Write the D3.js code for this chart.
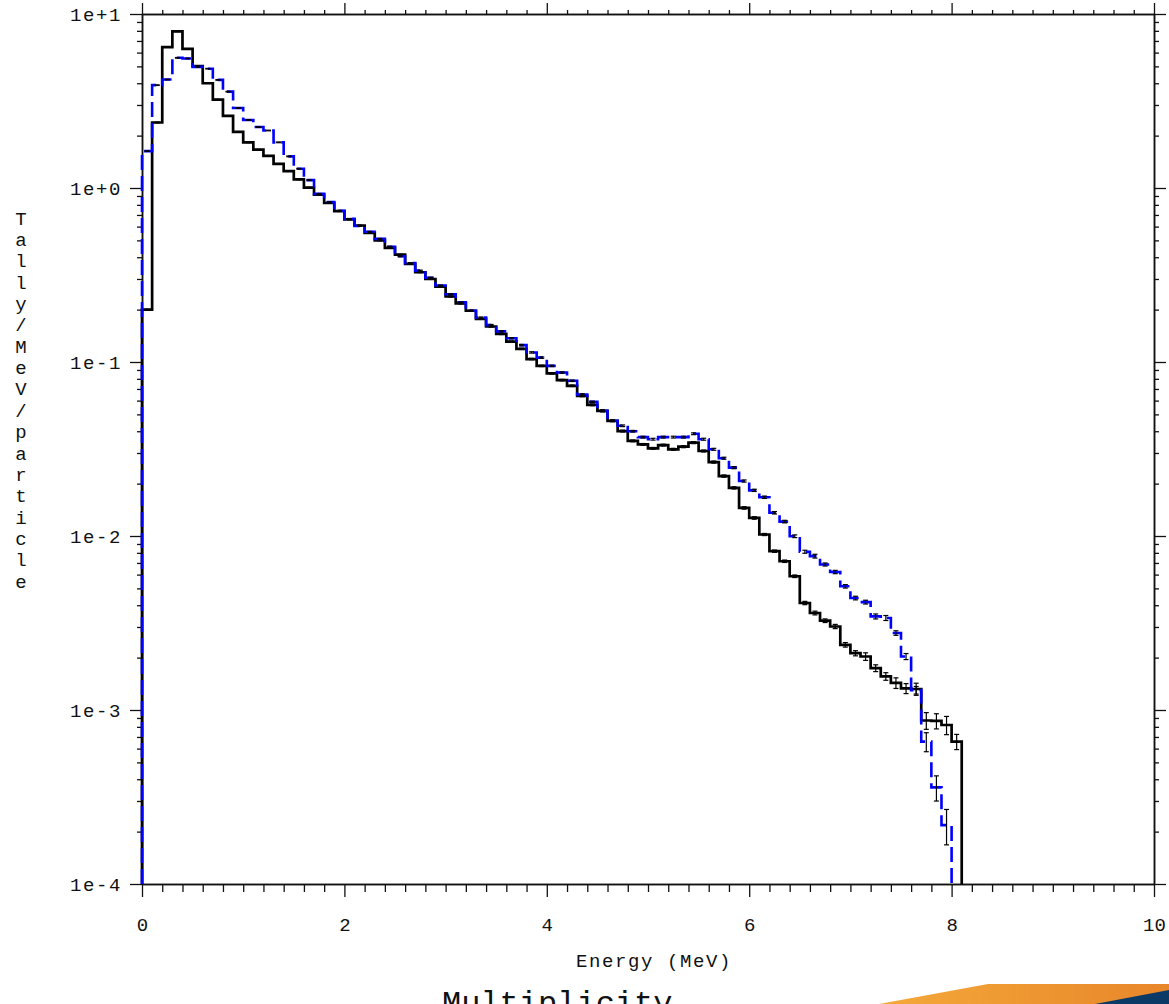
<!DOCTYPE html>
<html>
<head>
<meta charset="utf-8">
<script src="https://cdn.jsdelivr.net/npm/d3@7"></script>
<style>
  body { margin: 0; background: #fff; }
  svg { display: block; }
  text { font-family: "Liberation Mono", "Courier New", monospace; fill: #111; }
</style>
</head>
<body>
<div id="chart"></div>
<script>
// histogram bins are 0.1 MeV wide, starting at 0
const binWidth = 0.1;

// Tally/MeV/particle, black solid series
const blackValues = [
  0.20, 2.38, 6.45, 7.95, 6.3, 5.02, 4.0, 3.22, 2.6, 2.1,
  1.83, 1.66, 1.53, 1.375, 1.25, 1.12, 1.005, 0.915, 0.82, 0.737,
  0.66, 0.609, 0.552, 0.50, 0.453, 0.414, 0.366, 0.328, 0.30, 0.271,
  0.238, 0.217, 0.197, 0.177, 0.16, 0.145, 0.131, 0.119, 0.104, 0.095,
  0.086, 0.0787, 0.073, 0.0638, 0.0567, 0.0524, 0.0459, 0.0401, 0.0352, 0.0336,
  0.0319, 0.0333, 0.0315, 0.0326, 0.0344, 0.0308, 0.0266, 0.0221, 0.0189, 0.0145,
  0.0127, 0.0102, 0.00818, 0.00716, 0.00587, 0.00412, 0.00361, 0.00326, 0.00302, 0.00237,
  0.00212, 0.00203, 0.00174, 0.00156, 0.00143, 0.00133, 0.00132, 0.00087, 0.000865, 0.00082,
  0.000658
];
// relative errors of the black series
const blackErrors = [
  0.004, 0.004, 0.003, 0.003, 0.003, 0.003, 0.003, 0.003, 0.003, 0.004,
  0.004, 0.004, 0.004, 0.004, 0.004, 0.004, 0.004, 0.004, 0.005, 0.005,
  0.005, 0.005, 0.005, 0.005, 0.006, 0.006, 0.006, 0.006, 0.006, 0.006,
  0.007, 0.007, 0.007, 0.007, 0.008, 0.008, 0.008, 0.008, 0.009, 0.009,
  0.009, 0.01, 0.01, 0.01, 0.011, 0.011, 0.011, 0.012, 0.012, 0.012,
  0.012, 0.012, 0.013, 0.013, 0.013, 0.013, 0.014, 0.015, 0.015, 0.016,
  0.017, 0.014, 0.015, 0.016, 0.017, 0.022, 0.025, 0.024, 0.028, 0.03,
  0.034, 0.05, 0.045, 0.05, 0.07, 0.066, 0.08, 0.11, 0.10, 0.12,
  0.10
];

// blue dashed series
const blueValues = [
  1.63, 3.9, 4.2, 5.6, 5.55, 4.97, 4.85, 4.18, 3.58, 2.88,
  2.46, 2.24, 2.14, 1.83, 1.52, 1.29, 1.11, 0.925, 0.83, 0.74,
  0.665, 0.605, 0.56, 0.51, 0.46, 0.405, 0.37, 0.335, 0.305, 0.275,
  0.245, 0.22, 0.197, 0.18, 0.163, 0.15, 0.137, 0.125, 0.1135, 0.106,
  0.095, 0.087, 0.078, 0.065, 0.059, 0.0524, 0.046, 0.043, 0.040, 0.037,
  0.036, 0.037, 0.037, 0.037, 0.0387, 0.036, 0.0315, 0.028, 0.0247, 0.0207,
  0.0183, 0.0167, 0.0136, 0.0121, 0.00997, 0.00812, 0.00766, 0.00686, 0.00621, 0.00514,
  0.0044, 0.00417, 0.00345, 0.00338, 0.00277, 0.00203, 0.0013, 0.000658, 0.000359, 0.000218
];
const blueErrors = [
  0.004, 0.004, 0.004, 0.004, 0.004, 0.004, 0.004, 0.004, 0.004, 0.004,
  0.004, 0.004, 0.004, 0.005, 0.005, 0.005, 0.005, 0.005, 0.005, 0.005,
  0.005, 0.006, 0.006, 0.006, 0.006, 0.006, 0.006, 0.007, 0.007, 0.007,
  0.007, 0.007, 0.008, 0.008, 0.008, 0.008, 0.008, 0.009, 0.009, 0.009,
  0.009, 0.01, 0.01, 0.01, 0.01, 0.011, 0.011, 0.011, 0.011, 0.012,
  0.012, 0.012, 0.012, 0.012, 0.012, 0.013, 0.013, 0.013, 0.014, 0.014,
  0.015, 0.016, 0.016, 0.017, 0.018, 0.02, 0.025, 0.02, 0.022, 0.023,
  0.024, 0.025, 0.033, 0.033, 0.03, 0.04, 0.05, 0.125, 0.165, 0.23
];

const xTickValues = [0, 2, 4, 6, 8, 10];
const xTickLabels = ["0", "2", "4", "6", "8", "10"];
const yTickValues = [1e-4, 1e-3, 1e-2, 1e-1, 1e+0, 1e+1];
const yTickLabels = ["1e-4", "1e-3", "1e-2", "1e-1", "1e+0", "1e+1"];

const xTitle = "Energy (MeV)";
const yTitle = "Tally/MeV/particle";
const footerText = "Multiplicity";

const width = 1169, height = 1004;
const plotLeft = 142, plotRight = 1154, plotTop = 14, plotBottom = 884;

const svg = d3.select("#chart").append("svg")
    .attr("width", width)
    .attr("height", height);

svg.append("rect").attr("width", width).attr("height", height).attr("fill", "#fff");

const x = d3.scaleLinear().domain([0, 10]).range([plotLeft, plotRight]);
const y = d3.scaleLog().domain([1e-4, 10]).range([plotBottom, plotTop]);

// minor tick positions
const xMinor = d3.range(0, 10.001, 0.2).filter(v => Math.abs(v / 2 - Math.round(v / 2)) > 1e-6);
const yMinor = [];
for (let e = -4; e < 1; e++) {
    for (let m = 2; m <= 9; m++) yMinor.push(m * Math.pow(10, e));
}

function styleAxis(g) {
    g.select(".domain").attr("stroke", "#111").attr("stroke-width", 1.5);
    g.selectAll(".tick line").attr("stroke", "#111").attr("stroke-width", 1.3);
}

// bottom axis
svg.append("g").attr("transform", `translate(0,${plotBottom})`)
    .call(d3.axisBottom(x).tickValues(xMinor).tickSize(8).tickSizeOuter(0).tickFormat(""))
    .call(styleAxis);
const xb = svg.append("g").attr("transform", `translate(0,${plotBottom})`)
    .call(d3.axisBottom(x).tickValues(xTickValues).tickSize(13).tickSizeOuter(0)
        .tickFormat((d, i) => xTickLabels[i]))
    .call(styleAxis);
xb.selectAll("text")
    .attr("y", 40).attr("dy", "0.35em")
    .attr("font-family", "Liberation Mono").attr("font-size", 19)
    .attr("fill", "#111");

// top axis
svg.append("g").attr("transform", `translate(0,${plotTop})`)
    .call(d3.axisTop(x).tickValues(xMinor).tickSize(4).tickSizeOuter(0).tickFormat(""))
    .call(styleAxis);
svg.append("g").attr("transform", `translate(0,${plotTop})`)
    .call(d3.axisTop(x).tickValues(xTickValues).tickSize(11).tickSizeOuter(0).tickFormat(""))
    .call(styleAxis);

// left axis
svg.append("g").attr("transform", `translate(${plotLeft},0)`)
    .call(d3.axisLeft(y).tickValues(yMinor).tickSize(5).tickSizeOuter(0).tickFormat(""))
    .call(styleAxis);
const yl = svg.append("g").attr("transform", `translate(${plotLeft},0)`)
    .call(d3.axisLeft(y).tickValues(yTickValues).tickSize(12).tickSizeOuter(0)
        .tickFormat((d, i) => yTickLabels[i]))
    .call(styleAxis);
yl.selectAll("text")
    .attr("x", -20).attr("dy", "0.35em")
    .attr("font-family", "Liberation Mono").attr("font-size", 19)
    .attr("letter-spacing", "1.6px")
    .attr("fill", "#111");

// right axis
svg.append("g").attr("transform", `translate(${plotRight},0)`)
    .call(d3.axisRight(y).tickValues(yMinor).tickSize(5).tickSizeOuter(0).tickFormat(""))
    .call(styleAxis);
svg.append("g").attr("transform", `translate(${plotRight},0)`)
    .call(d3.axisRight(y).tickValues(yTickValues).tickSize(12).tickSizeOuter(0).tickFormat(""))
    .call(styleAxis);

// step outline of a histogram, starting and ending on the axis floor
function stepPoints(values) {
    const floor = y.domain()[0];
    const pts = [[0, floor]];
    values.forEach((v, i) => {
        pts.push([i * binWidth, v]);
        pts.push([(i + 1) * binWidth, v]);
    });
    pts.push([values.length * binWidth, floor]);
    return pts;
}

const line = d3.line().x(d => x(d[0])).y(d => y(d[1]));

svg.append("path")
    .attr("d", line(stepPoints(blackValues)))
    .attr("fill", "none")
    .attr("stroke", "#000")
    .attr("stroke-width", 2.7);

svg.append("path")
    .attr("d", line(stepPoints(blueValues)))
    .attr("fill", "none")
    .attr("stroke", "#0000ff")
    .attr("stroke-width", 2.6)
    .attr("stroke-dasharray", "15,6");

// error bars, black for both series
function drawErrors(values, errors) {
    const g = svg.append("g").attr("stroke", "#000").attr("stroke-width", 1.2);
    values.forEach((v, i) => {
        const cx = x((i + 0.5) * binWidth);
        const y0 = y(v * (1 - errors[i]));
        const y1 = y(v * (1 + errors[i]));
        g.append("line").attr("x1", cx).attr("x2", cx).attr("y1", y0).attr("y2", y1);
        g.append("line").attr("x1", cx - 2.5).attr("x2", cx + 2.5).attr("y1", y0).attr("y2", y0);
        g.append("line").attr("x1", cx - 2.5).attr("x2", cx + 2.5).attr("y1", y1).attr("y2", y1);
    });
}
drawErrors(blackValues, blackErrors);
drawErrors(blueValues, blueErrors);

// axis titles
svg.append("text")
    .attr("x", 654).attr("y", 960).attr("dy", "0.35em")
    .attr("text-anchor", "middle")
    .attr("font-size", 19).attr("letter-spacing", "1.6px")
    .text(xTitle);

const yt = svg.append("text")
    .attr("text-anchor", "middle")
    .attr("font-size", 19);
yTitle.split("").forEach((ch, i) => {
    yt.append("tspan")
        .attr("x", 21)
        .attr("y", 218 + i * 21.35)
        .attr("dy", "0.35em")
        .text(ch);
});

// slide footer peeking in at the bottom
const grad = svg.append("defs").append("linearGradient")
    .attr("id", "orange").attr("x1", "0").attr("x2", "1");
grad.append("stop").attr("offset", "0").attr("stop-color", "#f4a93a");
grad.append("stop").attr("offset", "1").attr("stop-color", "#e8862a");
svg.append("polygon")
    .attr("points", "879,1004 988,984 1169,984 1169,1004")
    .attr("fill", "url(#orange)");
svg.append("polygon")
    .attr("points", "1095,1004 1169,990 1169,1004")
    .attr("fill", "#0c3a66");

svg.append("text")
    .attr("x", 442).attr("y", 1013)
    .attr("font-size", 32)
    .attr("fill", "#222")
    .text(footerText);
</script>
</body>
</html>
